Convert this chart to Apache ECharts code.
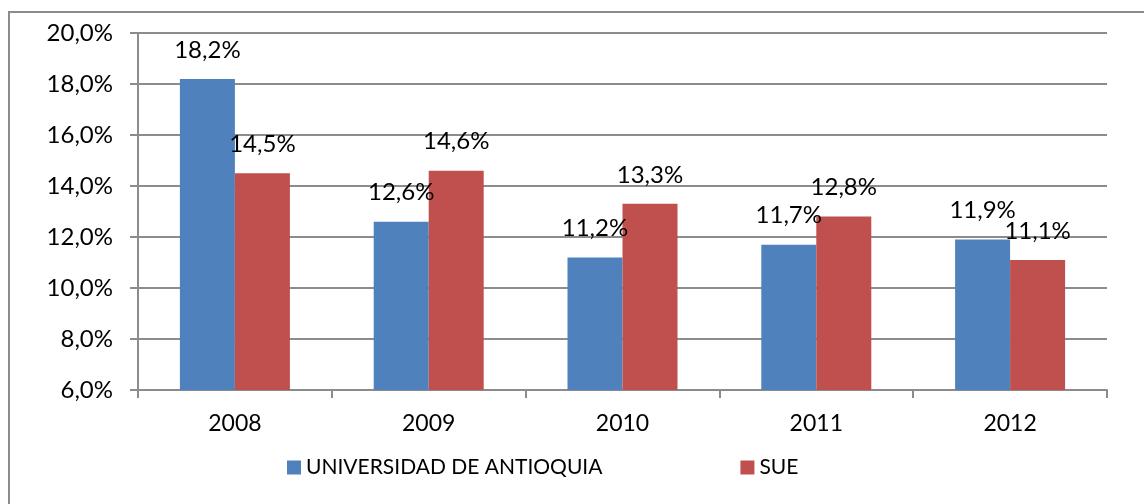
<!DOCTYPE html>
<html>
<head>
<meta charset="utf-8">
<script src="https://cdn.jsdelivr.net/npm/echarts@6/dist/echarts.min.js"></script>
<style>
	html, body { margin: 0; padding: 0; background: #fff; }
	#box { position: absolute; left: 8px; top: 11px; width: 1150px; height: 510px; border-left: 2px solid #8c8c8c; border-top: 2px solid #8c8c8c; }
	#chart { position: absolute; left: 0; top: 0; width: 1144px; height: 504px; }
</style>
</head>
<body>
<div id="box"></div>
<div id="chart"></div>
<script>
// 数据
var years = ['2008', '2009', '2010', '2011', '2012'];
var udea = [18.2, 12.6, 11.2, 11.7, 11.9];
var sue = [14.5, 14.6, 13.3, 12.8, 11.1];
var seriesNames = ['UNIVERSIDAD DE ANTIOQUIA', 'SUE'];

(function () {
	let myChart = echarts.init(document.getElementById('chart'));
	let font = 'Lato, Open Sans, sans-serif';
	let pct = function (v) {
		return v.toFixed(1).replace('.', ',') + '%';
	};
	let barLabel = {
		show: true,
		position: 'top',
		distance: 17,
		color: '#000',
		fontSize: 24,
		fontFamily: font,
		formatter: function (p) { return pct(p.value); }
	};
	let option = {
		animation: false,
		color: ['#4F81BD', '#C0504D'],
		grid: {
			left: 138,
			right: 37,
			top: 33,
			bottom: 114,
			containLabel: false
		},
		legend: {
			bottom: 21,
			left: 282,
			itemGap: 138,
			itemWidth: 14,
			itemHeight: 14,
			icon: 'rect',
			textStyle: { color: '#000', fontSize: 21, fontFamily: font },
			data: seriesNames
		},
		xAxis: {
			type: 'category',
			data: years,
			axisLine: { lineStyle: { color: '#8c8c8c', width: 2 } },
			axisTick: { show: true, length: 8, lineStyle: { color: '#8c8c8c', width: 2 } },
			axisLabel: { color: '#000', fontSize: 23, fontFamily: font, margin: 22 }
		},
		yAxis: {
			type: 'value',
			min: 6,
			max: 20,
			interval: 2,
			axisLine: { show: true, lineStyle: { color: '#8c8c8c', width: 2 } },
			axisTick: { show: true, length: 8, lineStyle: { color: '#8c8c8c', width: 2 } },
			axisLabel: { color: '#000', fontSize: 24, fontFamily: font, margin: 25, formatter: pct },
			splitLine: { lineStyle: { color: '#8c8c8c', width: 2 } }
		},
		series: [
			{
				name: seriesNames[0],
				type: 'bar',
				barWidth: 55,
				barGap: '0%',
				label: barLabel,
				data: udea
			},
			{
				name: seriesNames[1],
				type: 'bar',
				barWidth: 55,
				barGap: '0%',
				label: barLabel,
				data: sue
			}
		]
	};
	myChart.setOption(option);
	window.addEventListener('resize', function () {
		myChart.resize();
	});
})();
</script>
</body>
</html>
